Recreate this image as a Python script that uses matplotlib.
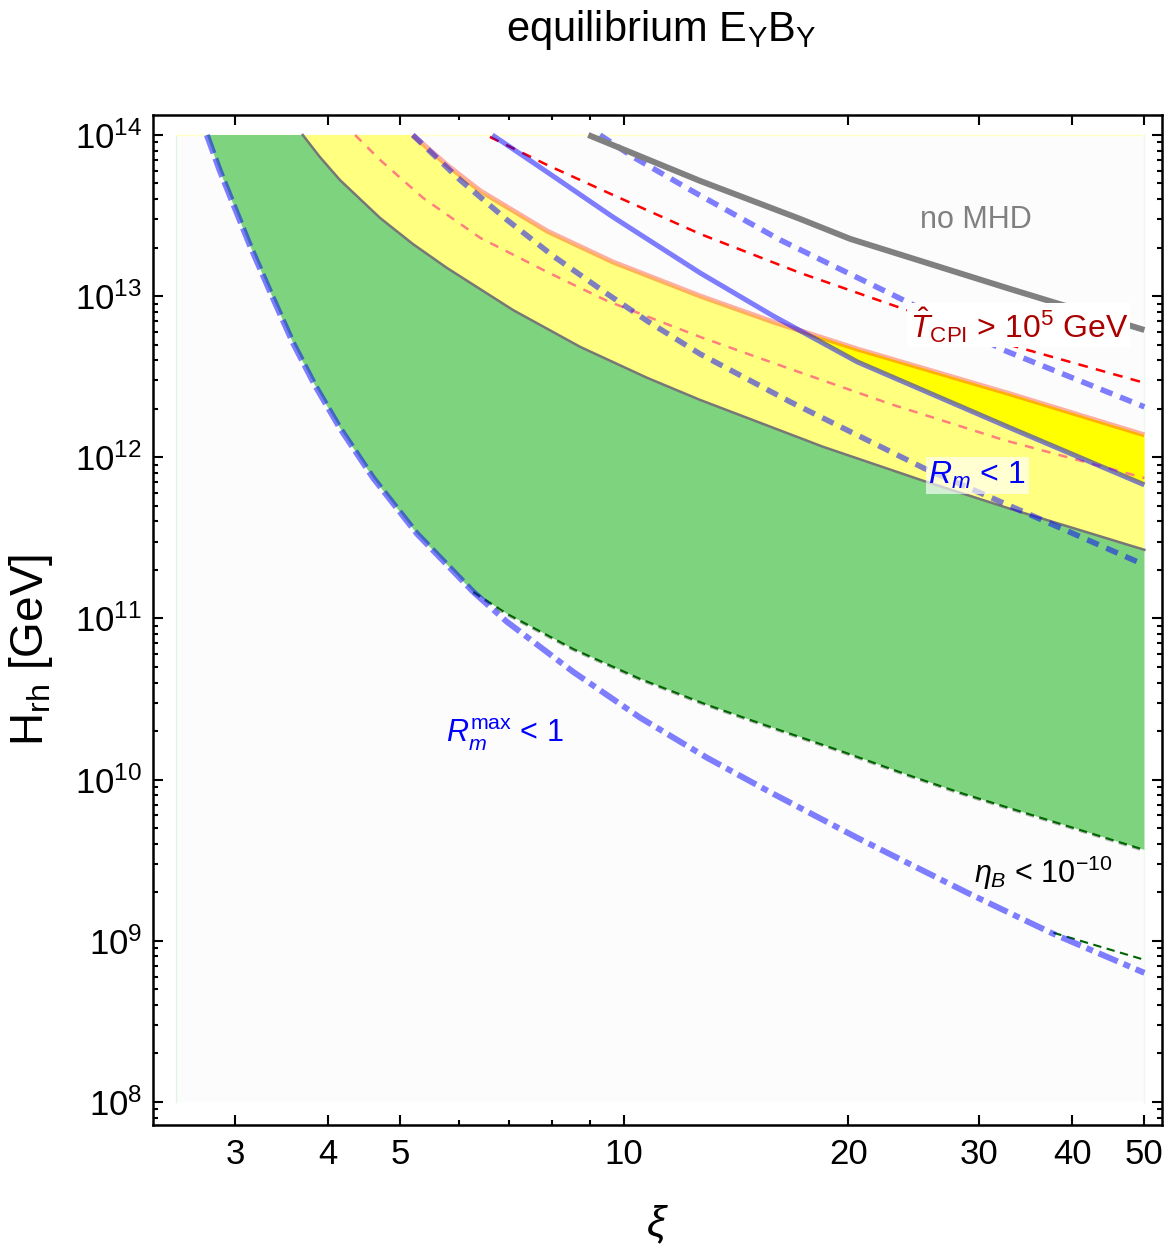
import numpy as np
import matplotlib
matplotlib.use("Agg")
import matplotlib.pyplot as plt
from matplotlib.ticker import FixedLocator, FixedFormatter, NullFormatter, LogFormatterSciNotation
from matplotlib.patches import Rectangle

plt.rcParams['font.family'] = ['Liberation Sans', 'DejaVu Sans']
plt.rcParams['mathtext.fontset'] = 'custom'
plt.rcParams['mathtext.rm'] = 'Liberation Sans'
plt.rcParams['mathtext.it'] = 'Liberation Sans:italic'
plt.rcParams['mathtext.bf'] = 'Liberation Sans:bold'
plt.rcParams['lines.scale_dashes'] = False

# ---------------- data (xi, log10 H_rh) ----------------
# R_m^max < 1 boundary (left edge of green region, then dash-dot)
rmmax_xi   = [2.75, 2.86, 2.98, 3.14, 3.35, 3.59, 3.84, 4.15, 4.60, 5.27, 6.27,
              6.96, 8.54, 10.51, 12.93, 15.86, 20.57, 28.91, 37.73, 50.0]
rmmax_logH = [14.0, 13.783, 13.578, 13.318, 13.020, 12.710, 12.449, 12.182, 11.872, 11.525, 11.165,
              10.979, 10.669, 10.384, 10.135, 9.912, 9.639, 9.298, 9.043, 8.801]
rmmax_split = 10   # dashed up to this index, dash-dot beyond

# eta_B < 1e-10 lower edge of green region
eta_xi   = [6.27, 6.96, 8.54, 10.51, 12.93, 15.86, 19.51, 24.02, 28.30, 50.0]
eta_logH = [11.165, 11.029, 10.811, 10.625, 10.464, 10.321, 10.179, 10.030, 9.918, 9.564]
# second eta_B branch
eta2_xi   = [37.73, 50.0]
eta2_logH = [9.050, 8.882]

# green / yellow boundary
gy_xi   = [3.70, 3.90, 4.15, 4.70, 5.20, 5.78, 7.09, 8.73, 10.74, 12.65, 18.51, 25.24, 33.03, 50.0]
gy_logH = [14.0, 13.864, 13.721, 13.485, 13.324, 13.175, 12.914, 12.685, 12.493, 12.356, 12.065, 11.854, 11.680, 11.426]

# top of yellow region (T_CPI bound)
top_xi   = [5.20, 5.78, 6.41, 7.88, 9.66, 12.65, 15.86, 20.57, 33.03, 50.0]
top_logH = [14.0, 13.814, 13.653, 13.404, 13.212, 13.001, 12.840, 12.672, 12.393, 12.139]

# blue solid line (R_m < 1)
blue_xi   = [6.65, 7.88, 9.66, 12.65, 15.86, 20.57, 33.03, 50.0]
blue_logH = [14.0, 13.770, 13.491, 13.144, 12.877, 12.592, 12.182, 11.829]
cross_xi, cross_logH = 17.24, 12.787   # crossing of blue solid and top line

# red dashed
red_xi   = [6.60, 7.88, 9.66, 12.65, 17.24, 23.72, 33.33, 50.0]
red_logH = [13.988, 13.814, 13.628, 13.386, 13.144, 12.921, 12.691, 12.462]

# pink thin dashed
pink_xi   = [4.35, 4.70, 5.37, 6.41, 7.88, 9.49, 12.65, 16.72, 22.78, 32.32, 50.0]
pink_logH = [14.0, 13.845, 13.609, 13.361, 13.150, 12.970, 12.747, 12.548, 12.331, 12.108, 11.872]

# upper blue dashed
bdu_xi   = [9.28, 10.28, 12.27, 16.2, 23.72, 32.32, 50.0]
bdu_logH = [14.0, 13.864, 13.659, 13.349, 12.976, 12.666, 12.313]

# lower blue dashed
bdl_xi   = [5.20, 6.02, 6.96, 8.03, 9.49, 10.74, 12.65, 16.72, 25.24, 50.0]
bdl_logH = [14.0, 13.721, 13.473, 13.249, 13.014, 12.846, 12.641, 12.344, 11.934, 11.333]

# no MHD (gray thick)
gray_xi   = [8.95, 12.65, 17.24, 20.13, 33.03, 50.0]
gray_logH = [14.0, 13.715, 13.479, 13.355, 13.044, 12.790]

x_ticks = [3, 4, 5, 10, 20, 30, 40, 50]
x_minor = [6, 7, 8, 9]
y_ticks = [1e8, 1e9, 1e10, 1e11, 1e12, 1e13, 1e14]

P = lambda a: 10.0 ** np.asarray(a, dtype=float)
A = lambda a: np.asarray(a, dtype=float)

fig = plt.figure(figsize=(11.73, 12.57), dpi=100)
ax = fig.add_axes([153/1173, 1-1125/1257, (1162-153)/1173, (1125-115)/1257])
ax.set_xscale('log'); ax.set_yscale('log')
ax.set_xlim(2.328, 52.8)
ax.set_ylim(10**7.857, 10**14.124)

# plot region background
ax.add_patch(Rectangle((2.5, 1e8), 47.5, 1e14 - 1e8, facecolor='#fcfcfc', edgecolor='none', zorder=0))
ax.plot([2.5, 2.5], [1e8, 1e14], color='#e4f2e4', lw=1, zorder=0.5)
ax.plot([2.5, 50], [1e14, 1e14], color='#ffffc8', lw=1, zorder=0.5)
ax.plot([50, 50], [1e8, 1e14], color='#eef8ee', lw=1, zorder=0.5)

# gray dashed under green lower boundary
ax.plot(A(eta_xi), P(eta_logH), color='#b4b4b4', lw=3.2, ls=(0, (6, 4)), zorder=1)

# green region
gx = np.concatenate([A(rmmax_xi[:rmmax_split+1]), A(eta_xi), A(gy_xi)[::-1]])
gyv = np.concatenate([A(rmmax_logH[:rmmax_split+1]), A(eta_logH), A(gy_logH)[::-1]])
ax.fill(gx, 10**gyv, color='#7ed37e', lw=0, zorder=2)

# light yellow region
yx = np.concatenate([A(gy_xi), A(top_xi)[::-1]])
yy = np.concatenate([A(gy_logH), A(top_logH)[::-1]])
ax.fill(yx, 10**yy, color='#ffff80', lw=0, zorder=2)

# bright yellow region
tx = A(top_xi); ty = A(top_logH); bx = A(blue_xi); by = A(blue_logH)
mt = tx > cross_xi; mb = bx > cross_xi
byx = np.concatenate([[cross_xi], tx[mt], bx[mb][::-1]])
byy = np.concatenate([[cross_logH], ty[mt], by[mb][::-1]])
ax.fill(byx, 10**byy, color='#ffff00', lw=0, zorder=2)

# boundary line green/yellow
ax.plot(A(gy_xi), P(gy_logH), color='#777777', lw=1.8, zorder=3)

# lines
ax.plot(A(eta_xi), P(eta_logH), color='#006400', lw=1.5, ls=(0, (6, 4)), zorder=4)
ax.plot(A(eta2_xi), P(eta2_logH), color='#006400', lw=1.5, ls=(0, (6, 4)), zorder=4)
ax.plot(A(pink_xi), P(pink_logH), color='#ff7f7f', lw=1.8, ls=(0, (6.5, 6)), zorder=4)
ax.plot(A(red_xi), P(red_logH), color='#ff0000', lw=1.8, ls=(0, (7, 6)), zorder=4)
ax.plot(A(top_xi), P(top_logH), color='#ff2000', alpha=0.35, lw=3.6, zorder=4, solid_capstyle='butt')
ax.plot(A(blue_xi), P(blue_logH), color='#0000ff', alpha=0.5, lw=3.6, zorder=4, solid_capstyle='butt')
ax.plot(A(bdl_xi), P(bdl_logH), color='#0000ff', alpha=0.5, lw=4.0, ls=(0, (9, 6)), zorder=4)
ax.plot(A(bdu_xi), P(bdu_logH), color='#0000ff', alpha=0.5, lw=4.0, ls=(0, (9, 6)), zorder=4)
ax.plot(A(gray_xi), P(gray_logH), color='#808080', lw=4.3, zorder=4, solid_capstyle='butt')
ax.plot(A(rmmax_xi[:rmmax_split+1]), P(rmmax_logH[:rmmax_split+1]), color='#0000ff', alpha=0.5,
        lw=4.3, ls=(0, (14, 4)), zorder=4)
ax.plot(A(rmmax_xi[rmmax_split:]), P(rmmax_logH[rmmax_split:]), color='#0000ff', alpha=0.5,
        lw=4.3, ls=(0, (15, 4.5, 5, 4.5)), zorder=4)

# labels
ax.text(29.7, 10**13.473, 'no MHD', color='#808080', fontsize=22, ha='center', va='center', zorder=6)
ax.text(33.9, 10**12.821, r'$\hat{T}_{\mathrm{CPI}}$ > 10$^5$ GeV', color='#aa0000', fontsize=23,
        ha='center', va='center', zorder=6,
        bbox=dict(facecolor='white', edgecolor='none', pad=1.5))
ax.text(29.8, 10**11.885, r'$R_m$ < 1', color='#0000ff', fontsize=23, ha='center', va='center', zorder=6,
        bbox=dict(facecolor='white', alpha=0.65, edgecolor='none', pad=2))
ax.text(6.92, 10**10.278, r'$R_m^{\mathrm{max}}$ < 1', color='#0000ff', fontsize=22, ha='center', va='center', zorder=6)
ax.text(36.6, 10**9.422, r'$\eta_B$ < 10$^{-10}$', color='black', fontsize=22, ha='center', va='center', zorder=6)

# axes styling
ax.xaxis.set_major_locator(FixedLocator(x_ticks))
ax.xaxis.set_major_formatter(FixedFormatter([str(t) for t in x_ticks]))
ax.xaxis.set_minor_locator(FixedLocator(x_minor))
ax.xaxis.set_minor_formatter(NullFormatter())
ax.yaxis.set_major_locator(FixedLocator(y_ticks))
ax.yaxis.set_major_formatter(LogFormatterSciNotation())
y_minor = [m * 10.0**e for e in range(7, 14) for m in range(2, 10) if 10**7.857 < m * 10.0**e < 10**14.124]
ax.yaxis.set_minor_locator(FixedLocator(y_minor))
ax.yaxis.set_minor_formatter(NullFormatter())
ax.tick_params(which='both', direction='in', top=True, right=True, width=1.5, labelsize=25)
ax.tick_params(which='major', length=7.5)
ax.tick_params(which='minor', length=3.8)
ax.tick_params(axis='x', pad=9)
ax.tick_params(axis='y', pad=8)
for s in ax.spines.values():
    s.set_linewidth(1.8)

ax.set_xlabel(r'$\xi$', fontsize=31)
ax.xaxis.set_label_coords(0.5, -0.078)
ax.set_ylabel(r'H$_{\mathrm{rh}}$ [GeV]', fontsize=33)
ax.yaxis.set_label_coords(-0.097, 0.47)
fig.text(0.564, 0.976, r'equilibrium E$_{\mathrm{Y}}$B$_{\mathrm{Y}}$', fontsize=30, ha='center', va='center')

fig.savefig('out.png', dpi=100)
